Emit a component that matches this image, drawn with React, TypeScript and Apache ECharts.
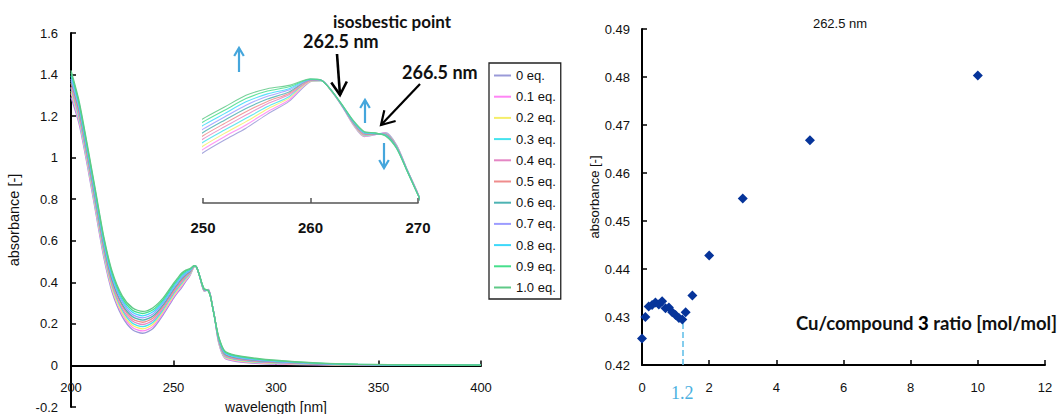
import React, { useEffect, useRef } from "react";
import * as echarts from "echarts";

// ---- Left panel: UV-vis spectra (wavelength in nm) ----
const wavelengths = [200, 204, 208, 212, 216, 220, 225, 230, 235, 240, 245, 250, 252, 254, 256, 258, 260, 261, 262, 263, 264, 265, 266, 267, 268, 269, 270, 272, 275, 280, 290, 300, 320, 340, 370, 400];

const eqNames = ["0 eq.", "0.1 eq.", "0.2 eq.", "0.3 eq.", "0.4 eq.", "0.5 eq.", "0.6 eq.", "0.7 eq.", "0.8 eq.", "0.9 eq.", "1.0 eq."];
const eqColors = ["#9a9ad8", "#ff85f5", "#f5ee6a", "#45e3ee", "#e486c4", "#ef8c8c", "#4db3b3", "#9c9cff", "#3ed8fa", "#46df8c", "#5fc987"];

const abs0 = [1.290, 1.160, 0.960, 0.740, 0.520, 0.355, 0.235, 0.172, 0.155, 0.178, 0.245, 0.323, 0.350, 0.375, 0.405, 0.432, 0.474, 0.476, 0.452, 0.419, 0.381, 0.357, 0.361, 0.366, 0.340, 0.287, 0.236, 0.110, 0.035, 0.020, 0.010, 0.006, 0.003, 0.001, 0.000, 0.000];
const abs01 = [1.310, 1.172, 0.971, 0.751, 0.531, 0.366, 0.246, 0.183, 0.166, 0.188, 0.253, 0.330, 0.357, 0.382, 0.410, 0.435, 0.475, 0.476, 0.452, 0.419, 0.382, 0.358, 0.361, 0.365, 0.339, 0.287, 0.236, 0.113, 0.038, 0.023, 0.012, 0.008, 0.004, 0.001, 0.000, 0.000];
const abs02 = [1.320, 1.185, 0.982, 0.761, 0.541, 0.374, 0.254, 0.193, 0.176, 0.198, 0.261, 0.337, 0.364, 0.389, 0.416, 0.439, 0.475, 0.476, 0.452, 0.420, 0.383, 0.359, 0.362, 0.364, 0.338, 0.286, 0.235, 0.116, 0.042, 0.026, 0.015, 0.010, 0.005, 0.002, 0.001, 0.000];
const abs03 = [1.335, 1.192, 0.989, 0.769, 0.549, 0.386, 0.266, 0.203, 0.187, 0.208, 0.269, 0.345, 0.371, 0.396, 0.421, 0.442, 0.476, 0.476, 0.453, 0.420, 0.384, 0.360, 0.362, 0.364, 0.338, 0.286, 0.235, 0.119, 0.045, 0.029, 0.017, 0.012, 0.006, 0.002, 0.001, 0.001];
const abs04 = [1.340, 1.206, 1.002, 0.782, 0.562, 0.394, 0.274, 0.214, 0.197, 0.218, 0.277, 0.352, 0.378, 0.403, 0.427, 0.446, 0.476, 0.477, 0.453, 0.421, 0.385, 0.361, 0.363, 0.363, 0.337, 0.285, 0.235, 0.122, 0.049, 0.032, 0.020, 0.014, 0.007, 0.003, 0.001, 0.001];
const abs05 = [1.360, 1.214, 1.009, 0.789, 0.569, 0.406, 0.286, 0.224, 0.208, 0.228, 0.285, 0.359, 0.385, 0.410, 0.432, 0.449, 0.477, 0.477, 0.453, 0.421, 0.386, 0.362, 0.363, 0.362, 0.336, 0.285, 0.234, 0.125, 0.052, 0.035, 0.022, 0.016, 0.007, 0.003, 0.002, 0.001];
const abs06 = [1.370, 1.228, 1.022, 0.801, 0.581, 0.414, 0.294, 0.235, 0.218, 0.238, 0.293, 0.366, 0.392, 0.417, 0.437, 0.452, 0.478, 0.477, 0.453, 0.421, 0.387, 0.364, 0.363, 0.361, 0.335, 0.285, 0.234, 0.128, 0.056, 0.038, 0.025, 0.017, 0.008, 0.004, 0.002, 0.001];
const abs07 = [1.380, 1.236, 1.029, 0.809, 0.589, 0.426, 0.306, 0.245, 0.229, 0.248, 0.301, 0.373, 0.399, 0.424, 0.443, 0.456, 0.478, 0.477, 0.454, 0.422, 0.388, 0.365, 0.364, 0.360, 0.334, 0.284, 0.234, 0.131, 0.059, 0.041, 0.027, 0.019, 0.009, 0.004, 0.002, 0.001];
const abs08 = [1.395, 1.250, 1.041, 0.822, 0.601, 0.434, 0.315, 0.256, 0.239, 0.258, 0.309, 0.381, 0.406, 0.431, 0.448, 0.459, 0.479, 0.477, 0.454, 0.422, 0.389, 0.366, 0.364, 0.360, 0.334, 0.284, 0.233, 0.134, 0.063, 0.044, 0.030, 0.021, 0.010, 0.005, 0.002, 0.002];
const abs09 = [1.410, 1.258, 1.050, 0.830, 0.610, 0.446, 0.325, 0.266, 0.250, 0.268, 0.317, 0.388, 0.413, 0.438, 0.454, 0.463, 0.479, 0.477, 0.454, 0.423, 0.390, 0.367, 0.365, 0.359, 0.333, 0.283, 0.233, 0.137, 0.066, 0.047, 0.032, 0.023, 0.011, 0.005, 0.003, 0.002];
const abs10 = [1.420, 1.270, 1.060, 0.840, 0.620, 0.455, 0.335, 0.277, 0.260, 0.278, 0.325, 0.395, 0.420, 0.445, 0.459, 0.466, 0.480, 0.477, 0.454, 0.423, 0.391, 0.368, 0.365, 0.358, 0.332, 0.283, 0.233, 0.140, 0.070, 0.050, 0.035, 0.025, 0.012, 0.006, 0.003, 0.002];
const spectra = [abs0, abs01, abs02, abs03, abs04, abs05, abs06, abs07, abs08, abs09, abs10];

// ---- Right panel: absorbance at 262.5 nm vs Cu/compound 3 ratio ----
const ratio = [0, 0.1, 0.2, 0.3, 0.4, 0.5, 0.6, 0.7, 0.8, 0.9, 1.0, 1.1, 1.2, 1.3, 1.5, 2, 3, 5, 10];
const abs262 = [0.4255, 0.4300, 0.4322, 0.4325, 0.4330, 0.4326, 0.4333, 0.4318, 0.4320, 0.4310, 0.4304, 0.4298, 0.4295, 0.4310, 0.4345, 0.4428, 0.4547, 0.4668, 0.4803];
const breakRatio = 1.2;

const SANS = "'Liberation Sans', Arial, sans-serif";
const BOLD = "Lato, 'Noto Sans', sans-serif";

// left grid geometry (pixels) and y range
const L_TOP = 33, L_HEIGHT = 374, Y_MIN = -0.2, Y_MAX = 1.6;

function arrow(x1: number, y1: number, x2: number, y2: number, head: number, color: string, width: number) {
  const dx = x2 - x1, dy = y2 - y1;
  const len = Math.hypot(dx, dy);
  const ux = dx / len, uy = dy / len;
  const nx = -uy, ny = ux;
  const bx = x2 - ux * head, by = y2 - uy * head;
  const w = head * 0.6;
  return [
    { type: "line", shape: { x1, y1, x2, y2 }, style: { stroke: color, lineWidth: width }, silent: true },
    {
      type: "polyline",
      shape: { points: [[bx + nx * w, by + ny * w], [x2, y2], [bx - nx * w, by - ny * w]] },
      style: { stroke: color, lineWidth: width, fill: null, lineJoin: "miter" },
      silent: true,
    },
  ];
}

export default function App() {
  const ref = useRef<HTMLDivElement>(null);
  useEffect(() => {
    if (!ref.current) return;
    const chart = echarts.init(ref.current, undefined, { renderer: "svg" });
    const mainSeries = spectra.map((vals, i) => ({
      name: eqNames[i],
      type: "line",
      xAxisIndex: 0,
      yAxisIndex: 0,
      data: wavelengths.map((w, j) => [w, vals[j]]),
      showSymbol: false,
      symbol: "none",
      smooth: 0.25,
      color: eqColors[i],
      lineStyle: { width: 1.3, color: eqColors[i] },
      z: 3 + i,
    }));
    const insetSeries = spectra.map((vals, i) => ({
      name: eqNames[i],
      type: "line",
      xAxisIndex: 1,
      yAxisIndex: 1,
      data: wavelengths.map((w, j) => [w, vals[j]]),
      showSymbol: false,
      symbol: "none",
      smooth: 0.25,
      color: eqColors[i],
      lineStyle: { width: 1.1, color: eqColors[i], opacity: 0.85 },
      z: 3 + i,
    }));
    // distance from the grid bottom up to the zero line of the left panel
    const zeroOffset = -(L_HEIGHT * (0 - Y_MIN)) / (Y_MAX - Y_MIN);
    const blue = "#45a6dc";
    const option: any = {
      animation: false,
      backgroundColor: "#fff",
      grid: [
        { left: 71, top: L_TOP, width: 410, height: L_HEIGHT, outerBoundsMode: "none", containLabel: false },
        { left: 203, top: 60, width: 215, height: 143, outerBoundsMode: "none", containLabel: false },
        { left: 642, top: 29, width: 403, height: 336, outerBoundsMode: "none", containLabel: false },
      ],
      xAxis: [
        {
          gridIndex: 0, type: "value", min: 200, max: 400, interval: 50,
          offset: zeroOffset,
          axisLine: { onZero: false, lineStyle: { color: "#000", width: 2 } },
          axisTick: { inside: true, length: 5, lineStyle: { color: "#000", width: 1.5 } },
          axisLabel: { fontSize: 13, margin: 16, color: "#111", fontFamily: SANS },
          splitLine: { show: false },
          name: "wavelength [nm]", nameLocation: "middle", nameGap: 35,
          nameTextStyle: { fontSize: 14, color: "#111", fontFamily: SANS },
        },
        {
          gridIndex: 1, type: "value", min: 250, max: 270, interval: 10,
          axisLine: { onZero: false, lineStyle: { color: "#555", width: 1.5 } },
          axisTick: { inside: true, length: 5, lineStyle: { color: "#555", width: 1.5 } },
          axisLabel: { fontSize: 15, fontWeight: "bold", margin: 17, color: "#111", fontFamily: SANS },
          splitLine: { show: false },
        },
        {
          gridIndex: 2, type: "value", min: 0, max: 12, interval: 2,
          axisLine: { onZero: false, lineStyle: { color: "#000", width: 2 } },
          axisTick: { inside: true, length: 5, lineStyle: { color: "#000", width: 1.5 } },
          axisLabel: { fontSize: 13, margin: 16, color: "#111", fontFamily: SANS },
          splitLine: { show: false },
        },
      ],
      yAxis: [
        {
          gridIndex: 0, type: "value", min: Y_MIN, max: Y_MAX, interval: 0.2,
          axisLine: { show: true, onZero: false, lineStyle: { color: "#000", width: 2 } },
          axisTick: { show: true, inside: true, length: 5, lineStyle: { color: "#000", width: 1.5 } },
          axisLabel: { fontSize: 13, margin: 13, color: "#111", fontFamily: SANS },
          splitLine: { show: false },
          name: "absorbance [-]", nameLocation: "middle", nameGap: 50,
          nameTextStyle: { fontSize: 14.5, color: "#111", fontFamily: SANS },
        },
        { gridIndex: 1, type: "value", min: 0.216, max: 0.52, show: false },
        {
          gridIndex: 2, type: "value", min: 0.42, max: 0.49, interval: 0.01,
          axisLine: { show: true, onZero: false, lineStyle: { color: "#000", width: 2 } },
          axisTick: { show: true, inside: true, length: 5, lineStyle: { color: "#000", width: 1.5 } },
          axisLabel: { fontSize: 13, margin: 12, color: "#111", fontFamily: SANS },
          splitLine: { show: false },
          name: "absorbance [-]", nameLocation: "middle", nameGap: 41,
          nameTextStyle: { fontSize: 13, color: "#111", fontFamily: SANS },
        },
      ],
      legend: {
        data: eqNames,
        orient: "vertical",
        left: 489,
        top: 63,
        icon: "rect",
        itemWidth: 17,
        itemHeight: 2,
        itemGap: 8.2,
        padding: [6, 5, 5, 5],
        borderColor: "#222",
        borderWidth: 1.3,
        backgroundColor: "#fff",
        textStyle: { fontSize: 13, color: "#111", fontFamily: SANS },
        selectedMode: false,
      },
      series: [
        ...mainSeries,
        ...insetSeries,
        {
          name: "262.5 nm",
          type: "scatter",
          xAxisIndex: 2,
          yAxisIndex: 2,
          data: ratio.map((r, i) => [r, abs262[i]]),
          symbol: "diamond",
          symbolSize: 10,
          itemStyle: { color: "#06349a", opacity: 1 },
          z: 5,
          markLine: {
            silent: true,
            symbol: ["none", "none"],
            lineStyle: { type: "dashed", color: "#5cbde8", width: 1.5 },
            label: {
              show: true, position: "start", formatter: "1.2", color: "#4cb0e0",
              fontSize: 18, fontFamily: "'Liberation Serif', serif", distance: 19,
            },
            data: [[{ coord: [breakRatio, 0.42] }, { coord: [breakRatio, 0.4291] }]],
          },
        },
      ],
      graphic: [
        { type: "text", left: 333, top: 13, style: { text: "isosbestic point", fontSize: 17, fontWeight: "bold", fontFamily: BOLD, fill: "#111" } },
        { type: "text", left: 303, top: 32, style: { text: "262.5 nm", fontSize: 18, fontWeight: "bold", fontFamily: BOLD, fill: "#111" } },
        { type: "text", left: 402, top: 63, style: { text: "266.5 nm", fontSize: 18, fontWeight: "bold", fontFamily: BOLD, fill: "#111" } },
        ...arrow(337, 54, 340, 95, 13, "#000", 2.6),
        ...arrow(420, 84, 381, 125, 13, "#000", 2.2),
        ...arrow(239, 72, 239, 48, 8, blue, 2.2),
        ...arrow(365, 123, 365, 100, 8, blue, 2.2),
        ...arrow(384, 143, 384, 168, 8, blue, 2.2),
        { type: "text", x: 840, y: 23, style: { text: "262.5 nm", fontSize: 13, fontFamily: SANS, fill: "#111", align: "center", verticalAlign: "middle" } },
        {
          type: "text", x: 1057, y: 323,
          style: {
            text: "Cu/compound {b|3} ratio [mol/mol]",
            fontSize: 18.5, fontWeight: "bold", fontFamily: BOLD, fill: "#111",
            align: "right", verticalAlign: "middle",
            rich: { b: { fontSize: 18.5, fontWeight: 900, fontFamily: BOLD, fill: "#000" } },
          },
        },
      ],
    };
    chart.setOption(option);
    return () => chart.dispose();
  }, []);
  return <div ref={ref} style={{ position: "fixed", left: 0, top: 0, width: 1060, height: 414 }} />;
}
